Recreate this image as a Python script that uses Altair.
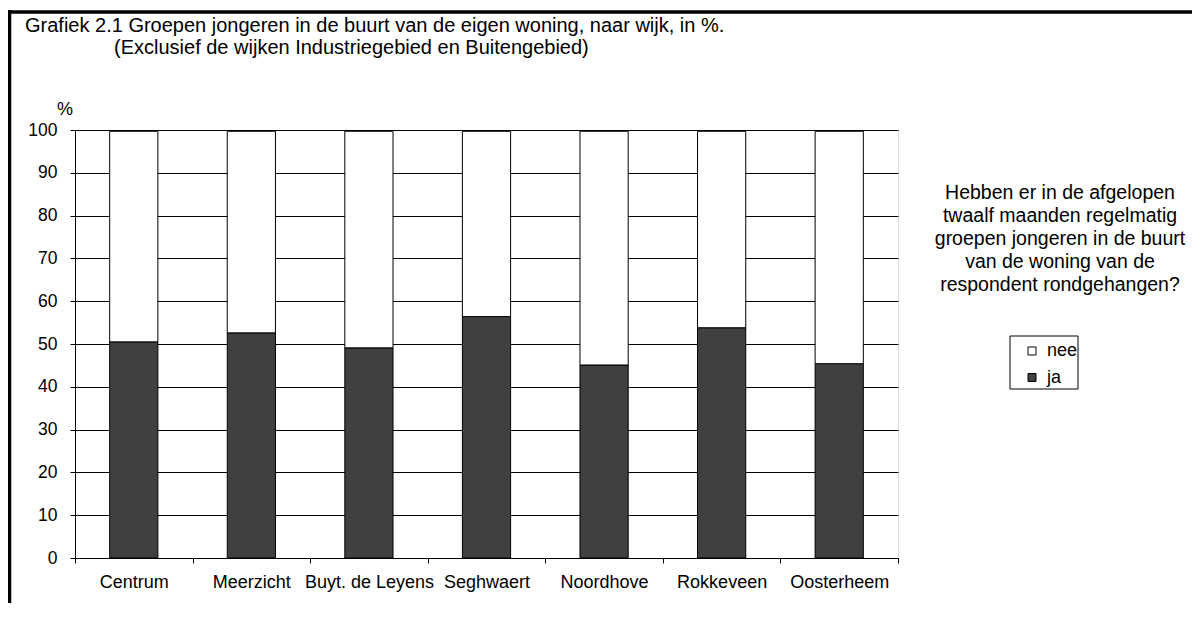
import altair as alt
import pandas as pd

# ---- data ----
wijken = ["Centrum", "Meerzicht", "Buyt. de Leyens", "Seghwaert",
          "Noordhove", "Rokkeveen", "Oosterheem"]
ja = [50.5, 52.6, 49.1, 56.4, 45.1, 53.8, 45.4]
nee = [49.2, 47.1, 50.6, 43.3, 54.6, 45.9, 54.3]
antwoorden = ["nee", "ja"]
y_ticks = [0, 10, 20, 30, 40, 50, 60, 70, 80, 90, 100]

title_line1 = "Grafiek 2.1  Groepen jongeren in de buurt van de eigen woning, naar wijk, in %."
title_line2 = "(Exclusief de wijken Industriegebied en Buitengebied)"
question = ["Hebben er in de afgelopen", "twaalf maanden regelmatig",
            "groepen jongeren in de buurt", "van de woning van de",
            "respondent rondgehangen?"]

rows = []
for w, j, n in zip(wijken, ja, nee):
    rows.append({"wijk": w, "antwoord": "ja", "pct": j, "volg": 0})
    rows.append({"wijk": w, "antwoord": "nee", "pct": n, "volg": 1})
df = pd.DataFrame(rows)

W, H = 823, 428
FONT = "Liberation Sans"

bars = alt.Chart(df).mark_bar(
    stroke="black", strokeWidth=1, width=alt.RelativeBandSize(0.41)
).encode(
    x=alt.X("wijk:N", sort=wijken,
            scale=alt.Scale(paddingInner=0, paddingOuter=0),
            axis=alt.Axis(title=None, labelAngle=0, tickBand="extent",
                          tickSize=5, tickColor="black", domainColor="black",
                          labelFontSize=18, labelPadding=10, labelColor="black",
                          grid=False)),
    y=alt.Y("pct:Q", stack="zero",
            scale=alt.Scale(domain=[0, 100], nice=False),
            axis=alt.Axis(title=None, values=y_ticks, tickSize=5,
                          tickColor="black", domainColor="black",
                          gridColor="black", gridOpacity=1, grid=True,
                          labelFontSize=17.5, labelPadding=13, labelColor="black")),
    color=alt.Color("antwoord:N",
                    scale=alt.Scale(domain=antwoorden, range=["#ffffff", "#404040"]),
                    legend=alt.Legend(title=None, orient="none",
                                      legendX=948, legendY=212,
                                      symbolType="square", symbolSize=64,
                                      symbolStrokeColor="black", symbolStrokeWidth=1,
                                      labelFontSize=18, labelColor="black",
                                      rowPadding=8.5, padding=0,
                                      labelOffset=6)),
    order=alt.Order("volg:Q", sort="ascending"),
)

one = pd.DataFrame({"a": [0]})

legend_box = alt.Chart(one).mark_rect(fill="white", stroke="black", strokeWidth=1).encode(
    x=alt.value(935), x2=alt.value(1003), y=alt.value(206), y2=alt.value(259))

frame_top = alt.Chart(one).mark_rule(color="black", strokeWidth=3.5).encode(
    x=alt.value(-67.5), x2=alt.value(1200), y=alt.value(-118))
frame_left = alt.Chart(one).mark_rule(color="black", strokeWidth=3.5).encode(
    x=alt.value(-65.5), y=alt.value(-120), y2=alt.value(600))

t1 = alt.Chart(one).mark_text(align="left", baseline="middle", fontSize=20,
                              color="black").encode(
    x=alt.value(-50), y=alt.value(-104), text=alt.value(title_line1))
t2 = alt.Chart(one).mark_text(align="left", baseline="middle", fontSize=20,
                              color="black").encode(
    x=alt.value(39), y=alt.value(-82), text=alt.value(title_line2))
pct = alt.Chart(one).mark_text(align="center", baseline="middle", fontSize=18,
                               color="black").encode(
    x=alt.value(-10), y=alt.value(-20), text=alt.value("%"))
q = alt.Chart(one).mark_text(align="center", baseline="middle", fontSize=19.5,
                             lineHeight=23, color="black").encode(
    x=alt.value(985), y=alt.value(63), text=alt.value(question))

chart = alt.layer(legend_box, bars, frame_top, frame_left, t1, t2, pct, q).properties(
    width=W, height=H,
    autosize=alt.AutoSizeParams(type="none"),
    padding={"left": 67, "top": 122, "right": 294, "bottom": 45},
    background="white",
).configure_view(stroke="#a0a0a0", strokeWidth=1).configure(font=FONT)

chart.save("out.html", embed_options={"renderer": "svg", "actions": False})
